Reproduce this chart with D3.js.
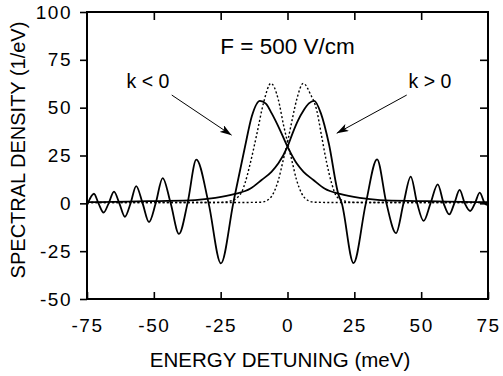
<!DOCTYPE html>
<html>
<head>
<meta charset="utf-8">
<script src="https://cdn.jsdelivr.net/npm/d3@7"></script>
<style>
  body { margin: 0; background: #fff; }
  svg { display: block; font-family: "Liberation Sans", Arial, Helvetica, sans-serif; }
</style>
</head>
<body>
<div id="chart"></div>
<script>
// Datos (meV, 1/eV)
const xTicks = [-75, -50, -25, 0, 25, 50, 75];
const yTicks = [-50, -25, 0, 25, 50, 75, 100];

// k < 0 : oscilaciones a la izquierda, cola suave a la derecha
const kNegX = [-75, -72.4, -70.7, -68.8, -66.9, -64.9, -62.9, -60.8, -58.7, -56.6, -54.2, -51.8, -49.3, -46.7, -43.7, -40.6, -37.4, -34.1, -29.5, -24.9, -20.3, -19.6, -15.9, -13.4, -10.3, -8, -5.9, -2.8, 0, 3.4, 6, 9.7, 14, 19.6, 27, 34.6, 50, 60, 75];
const kNegY = [-1, 5.0, 0, -4.8, 0, 6.1, 0, -7.0, 0, 9.0, 0, -9.8, 0, 13.2, 0, -16.0, 0, 22.8, 0, -31.4, 0, 4.9, 29.6, 45.3, 53.6, 52, 47, 38.3, 29.6, 20.9, 16.5, 12.2, 7.6, 4.9, 2.8, 1.7, 1.2, 0.9, 0.6];

// k > 0 : cola suave a la izquierda, oscilaciones a la derecha
const kPosX = [-75, -60, -50, -34.6, -27, -19.6, -14, -9.7, -6, -3.4, 0, 2, 4, 6, 8, 10.0, 12.5, 15.5, 19.0, 20.3, 24.7, 29.3, 33.5, 37.0, 40.6, 43.4, 46.1, 48.5, 50.9, 53.5, 56.2, 58.4, 60.5, 62.4, 64.4, 66.3, 68.3, 70.1, 71.9, 73.8, 75];
const kPosY = [0.6, 0.9, 1.2, 1.7, 2.8, 4.9, 7.6, 12.2, 16.5, 20.9, 29.6, 37, 43.5, 48.5, 52.2, 53.6, 47, 31, 4.9, 0, -31.2, 0, 23.0, 0, -15.6, 0, 14.0, 0, -9.2, 0, 9.9, 0, -5.8, 0, 7.0, 0, -4.0, 0, 5.6, 0, -1];

// curvas punteadas (dos picos)
const dotLeftX = [-75, -40, -25, -20.9, -18.4, -17.1, -15.9, -14.0, -11.5, -9.0, -6.2, -3.4, -1.5, 0, 1.6, 3.4, 5.3, 7.8, 10, 20, 75];
const dotLeftY = [0.4, 0.4, 0.5, 1.4, 3.5, 6, 10.5, 20.5, 36, 52.3, 62.7, 54, 41, 32, 22.6, 12.2, 5.2, 1.4, 0.6, 0.4, 0.4];
const dotRightX = [-75, -20, -10, -7.8, -5.3, -3.4, -1.6, 0, 1.5, 3.4, 5.9, 8.6, 10.9, 12.8, 14.7, 16.5, 18.4, 20.9, 25, 40, 75];
const dotRightY = [0.4, 0.4, 0.6, 1.4, 5.2, 12.2, 22.6, 32, 42, 54, 62.7, 57, 48.8, 34.8, 20.9, 10.5, 3.5, 1.4, 0.5, 0.4, 0.4];

// anotaciones (coordenadas en unidades de datos)
const titleText = 'F = 500 V/cm', titlePos = [0, 78];
const labelNeg = 'k < 0', labelNegPos = [-52.2, 60.5];
const labelPos = 'k > 0', labelPosPos = [53.3, 60.5];
const arrowNeg = [[-43.3, 56.6], [-20.9, 35.6]];
const arrowPos = [[44.6, 56.6], [18.4, 36.6]];

const W = 503, H = 376;
const margin = {top: 12, right: 15, bottom: 77, left: 87},
    width = W - margin.left - margin.right,
    height = H - margin.top - margin.bottom;

const svg = d3.select('#chart').append('svg')
    .attr('width', W).attr('height', H);

const g = svg.append('g')
    .attr('transform', 'translate(' + margin.left + ',' + margin.top + ')');

const x = d3.scaleLinear().domain([-75, 75]).range([0, width]);
const y = d3.scaleLinear().domain([-50, 100]).range([height, 0]);

// guion normal en vez del signo menos unicode
const fmt = d => String(d);

//Ejes
g.append('g')
    .attr('class', 'axis')
    .attr('transform', 'translate(0,' + height + ')')
    .call(d3.axisBottom(x).tickValues(xTicks).tickSize(-7).tickPadding(20).tickFormat(fmt));

g.append('g')
    .attr('class', 'axis')
    .call(d3.axisLeft(y).tickValues(yTicks).tickSize(7).tickPadding(8).tickFormat(fmt));

g.append('g')
    .attr('class', 'axis')
    .call(d3.axisTop(x).tickValues(xTicks.slice(1, -1)).tickSize(-8).tickFormat(''));

g.append('g')
    .attr('class', 'axis')
    .attr('transform', 'translate(' + width + ',0)')
    .call(d3.axisRight(y).tickValues(yTicks.slice(1, -1)).tickSize(-8).tickFormat(''));

g.selectAll('.axis .domain').remove();
g.selectAll('.axis line').attr('stroke', '#000').attr('stroke-width', 1.6);
g.selectAll('.axis text')
    .attr('fill', '#000')
    .style('font-size', '19px')
    .style('letter-spacing', '1.5px');

//Marco
g.append('rect')
    .attr('x', 0).attr('y', 0)
    .attr('width', width).attr('height', height)
    .attr('fill', 'none').attr('stroke', '#000').attr('stroke-width', 2);

//Curvas
g.append('clipPath').attr('id', 'clip')
    .append('rect').attr('width', width).attr('height', height);

const line = d3.line()
    .x(d => x(d[0]))
    .y(d => y(d[1]))
    .curve(d3.curveMonotoneX);

const curves = g.append('g').attr('clip-path', 'url(#clip)');

[[dotLeftX, dotLeftY], [dotRightX, dotRightY]].forEach(function(s) {
    curves.append('path')
        .datum(d3.zip(s[0], s[1]))
        .attr('fill', 'none')
        .attr('stroke', '#000')
        .attr('stroke-width', 1.4)
        .attr('stroke-dasharray', '2,2.2')
        .attr('d', line);
});

[[kNegX, kNegY], [kPosX, kPosY]].forEach(function(s) {
    curves.append('path')
        .datum(d3.zip(s[0], s[1]))
        .attr('fill', 'none')
        .attr('stroke', '#000')
        .attr('stroke-width', 1.8)
        .attr('d', line);
});

//Textos
g.append('text')
    .attr('x', x(titlePos[0])).attr('y', y(titlePos[1]))
    .attr('text-anchor', 'middle')
    .style('font-size', '22.5px')
    .text(titleText);

[[labelNeg, labelNegPos], [labelPos, labelPosPos]].forEach(function(l) {
    g.append('text')
        .attr('x', x(l[1][0])).attr('y', y(l[1][1]))
        .attr('text-anchor', 'middle')
        .style('font-size', '19.5px')
        .text(l[0]);
});

//Flechas
svg.append('defs').append('marker')
    .attr('id', 'arrow')
    .attr('viewBox', '0 0 12 8')
    .attr('refX', 12).attr('refY', 4)
    .attr('markerWidth', 12).attr('markerHeight', 8)
    .attr('markerUnits', 'userSpaceOnUse')
    .attr('orient', 'auto')
    .append('path')
    .attr('d', 'M0,0 L12,4 L0,8 L3,4 Z')
    .attr('fill', '#000');

[arrowNeg, arrowPos].forEach(function(a) {
    g.append('line')
        .attr('x1', x(a[0][0])).attr('y1', y(a[0][1]))
        .attr('x2', x(a[1][0])).attr('y2', y(a[1][1]))
        .attr('stroke', '#000')
        .attr('stroke-width', 1)
        .attr('marker-end', 'url(#arrow)');
});

//Títulos de ejes
svg.append('text')
    .attr('x', 280)
    .attr('y', 367)
    .attr('text-anchor', 'middle')
    .style('font-size', '20.5px')
    .text('ENERGY DETUNING (meV)');

svg.append('text')
    .attr('transform', 'translate(25,' + 150 + ') rotate(-90)')
    .attr('text-anchor', 'middle')
    .style('font-size', '20px')
    .text('SPECTRAL DENSITY (1/eV)');
</script>
</body>
</html>
